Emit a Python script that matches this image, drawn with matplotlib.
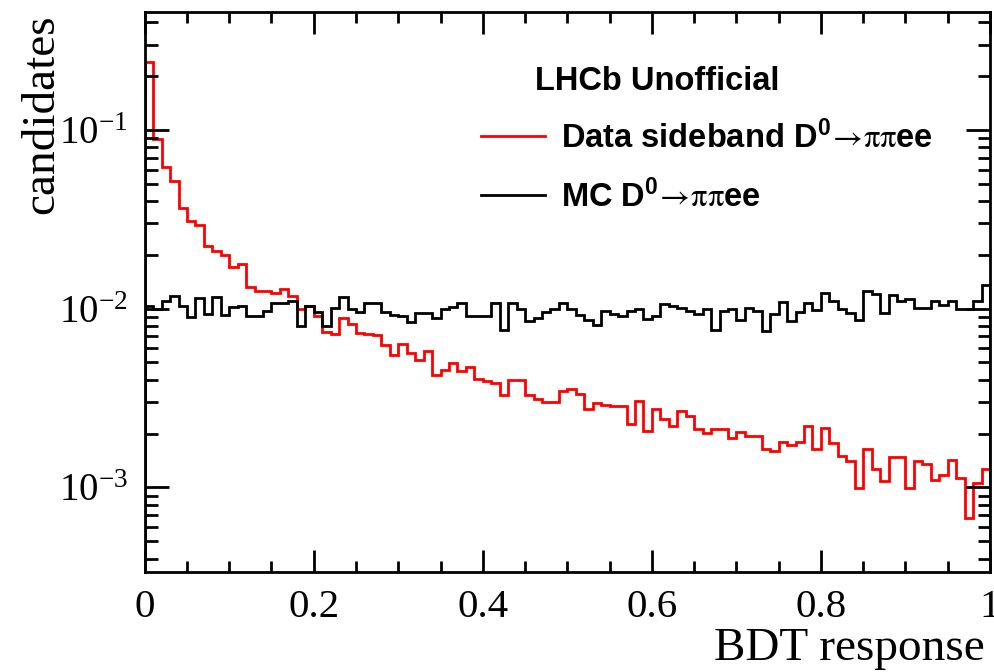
import matplotlib
matplotlib.use("Agg")
import matplotlib.pyplot as plt
import numpy as np
from matplotlib.ticker import LogLocator, MultipleLocator, LogFormatterSciNotation, NullFormatter

plt.rcParams['mathtext.fontset'] = 'stix'

# ---- data: 100 bins of BDT response in [0, 1] ----
bin_edges = np.linspace(0.0, 1.0, 101)

data_sideband = [
    0.241, 0.0887, 0.0624, 0.0519, 0.0368, 0.0310, 0.0294, 0.0223, 0.0209, 0.0199,
    0.0172, 0.0178, 0.0132, 0.0125, 0.0125, 0.01225, 0.0129, 0.0118, 0.00996, 0.0103,
    0.00914, 0.00738, 0.00725, 0.00887, 0.00824, 0.00735, 0.00725, 0.00716, 0.00629, 0.00553,
    0.00637, 0.00566, 0.00519, 0.00577, 0.00428, 0.00456, 0.00498, 0.00447, 0.00470, 0.00405,
    0.00393, 0.00385, 0.00327, 0.00401, 0.00401, 0.00327, 0.00313, 0.00300, 0.00300, 0.00345,
    0.00356, 0.00331, 0.00273, 0.00297, 0.00288, 0.00284, 0.00284, 0.00225, 0.00306, 0.00206,
    0.00273, 0.00240, 0.00220, 0.00267, 0.00250, 0.00211, 0.00202, 0.00213, 0.00213, 0.00190,
    0.00204, 0.00195, 0.00195, 0.00163, 0.00160, 0.00180, 0.00172, 0.00179, 0.00220, 0.00164,
    0.00216, 0.00178, 0.00150, 0.00140, 0.000996, 0.00164, 0.00127, 0.00108, 0.00147, 0.00147,
    0.000996, 0.00140, 0.00136, 0.00110, 0.00118, 0.00143, 0.00113, 0.000677, 0.00106, 0.00126,
]

mc_signal = [
    0.0103, 0.00996, 0.0110, 0.0117, 0.0103, 0.00894, 0.0115, 0.00938, 0.0116, 0.00925,
    0.0102, 0.0104, 0.00914, 0.00914, 0.00966, 0.0108, 0.0108, 0.0110, 0.00796, 0.0104,
    0.00954, 0.00804, 0.0101, 0.0116, 0.00996, 0.00954, 0.0107, 0.0107, 0.00954, 0.00925,
    0.00906, 0.00843, 0.00946, 0.00946, 0.00887, 0.00996, 0.0102, 0.0107, 0.00914, 0.00914,
    0.00914, 0.0107, 0.00757, 0.0107, 0.00996, 0.00849, 0.00887, 0.00954, 0.00996, 0.0107,
    0.00996, 0.00925, 0.00868, 0.00814, 0.00966, 0.00938, 0.00906, 0.00966, 0.00996, 0.00876,
    0.00906, 0.0106, 0.0104, 0.0101, 0.00966, 0.00938, 0.00996, 0.00763, 0.00966, 0.00996,
    0.00868, 0.0101, 0.00966, 0.00747, 0.00934, 0.0109, 0.00849, 0.00954, 0.0108, 0.00979,
    0.0122, 0.0110, 0.00996, 0.00946, 0.00861, 0.0125, 0.0121, 0.00946, 0.0120, 0.0110,
    0.0113, 0.0101, 0.0101, 0.0111, 0.0105, 0.0111, 0.00996, 0.00996, 0.0111, 0.0136,
]

header = "LHCb Unofficial"
label_data = r"Data sideband $\mathdefault{D}^{\mathdefault{0}}\!\rightarrow\!\mathrm{\pi\pi}$ee"
label_mc = r"MC $\mathdefault{D}^{\mathdefault{0}}\!\rightarrow\!\mathrm{\pi\pi}$ee"
xlabel = "BDT response"
ylabel = "candidates"

y_min, y_max = 3.35e-4, 0.455

# ---- figure ----
W, H = 995, 672
fig = plt.figure(figsize=(W / 100, H / 100), dpi=100)
ax = fig.add_axes([144.7 / W, 1 - 572.3 / H, (990 - 144.7) / W, (572.3 - 12.3) / H])

ax.set_yscale('log')
ax.set_xlim(0, 1)
ax.set_ylim(y_min, y_max)

lw = 2.0
ax.stairs(data_sideband, bin_edges, baseline=y_min, color='#ff0000', linewidth=lw, label=label_data)
ax.stairs(mc_signal, bin_edges, baseline=y_min, color='black', linewidth=lw, label=label_mc)

for s in ax.spines.values():
    s.set_linewidth(2.0)

serif = ['Liberation Serif', 'DejaVu Serif']
ax.xaxis.set_major_locator(MultipleLocator(0.2))
ax.xaxis.set_minor_locator(MultipleLocator(0.05))
ax.yaxis.set_major_locator(LogLocator(base=10, numticks=10))
ax.yaxis.set_minor_locator(LogLocator(base=10, subs=np.arange(2, 10), numticks=20))
ax.yaxis.set_major_formatter(LogFormatterSciNotation())
ax.yaxis.set_minor_formatter(NullFormatter())
ax.xaxis.set_major_formatter(matplotlib.ticker.FuncFormatter(lambda v, p: f"{v:g}"))

ax.tick_params(which='both', direction='in', top=True, right=True, width=2.0)
ax.tick_params(axis='x', which='major', length=16, pad=12, labelsize=29.5)
ax.tick_params(axis='x', which='minor', length=8)
ax.tick_params(axis='y', which='major', length=17, pad=12, labelsize=28)
ax.tick_params(axis='y', which='minor', length=9)
for lab in ax.get_xticklabels() + ax.get_yticklabels():
    lab.set_family(serif)

fig.text(985 / W, 1 - 660 / H, xlabel, ha='right', va='baseline', fontsize=34, family=serif)
fig.text(42 / W, 1 - 14 / H, ylabel, ha='center', va='top', rotation=90, fontsize=34, family=serif)

sans_bold = dict(family=['Liberation Sans', 'DejaVu Sans'], weight='bold')
fig.text(535 / W, 1 - 90 / H, header, ha='left', va='baseline', fontsize=23.5, **sans_bold)

leg = ax.legend(loc='upper left', bbox_to_anchor=(452 / W, 1 - 91 / H), bbox_transform=fig.transFigure,
                frameon=False, handlelength=1.96, handletextpad=0.48, labelspacing=0.76,
                prop=matplotlib.font_manager.FontProperties(family=['Liberation Sans', 'DejaVu Sans'],
                                                            weight='bold', size=23.5))

fig.savefig("out.png", dpi=100)
